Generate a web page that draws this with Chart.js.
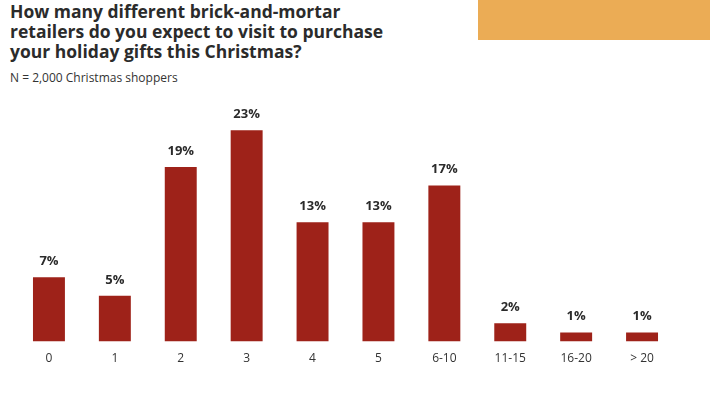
<!DOCTYPE html>
<html>
<head>
<meta charset="utf-8">
<script src="https://cdn.jsdelivr.net/npm/chart.js@4/dist/chart.umd.min.js"></script>
<style>
  html, body { margin: 0; padding: 0; background: #fff; }
  body { width: 710px; height: 395px; position: relative; overflow: hidden; font-family: "Open Sans", sans-serif; }
  #title { position: absolute; left: 10px; top: 1px; font-size: 17.5px; line-height: 20px; font-weight: 700; color: #2b2b2b; margin: 0; }
  #sub { position: absolute; left: 10px; top: 69px; font-size: 12px; color: #333; }
  #band { position: absolute; left: 478px; top: 0; width: 232px; height: 40px; background: #EBAC55; }
  #wrap { position: absolute; left: 0; top: 0; width: 710px; height: 395px; }
</style>
</head>
<body>
<div id="band"></div>
<div id="title">How many different brick-and-mortar<br>retailers do you expect to visit to purchase<br>your holiday gifts this Christmas?</div>
<div id="sub">N = 2,000 Christmas shoppers</div>
<div id="wrap"><canvas id="c" width="710" height="395"></canvas></div>
<script>
const categories = ["0", "1", "2", "3", "4", "5", "6-10", "11-15", "16-20", "> 20"];
const percentValues = [7, 5, 19, 23, 13, 13, 17, 2, 1, 1];

const valueLabels = {
  id: 'valueLabels',
  afterDatasetsDraw(chart) {
    const ctx = chart.ctx;
    const meta = chart.getDatasetMeta(0);
    ctx.save();
    ctx.font = 'bold 13px "Open Sans", sans-serif';
    ctx.fillStyle = '#2b2b2b';
    ctx.textAlign = 'center';
    ctx.textBaseline = 'alphabetic';
    meta.data.forEach((bar, i) => {
      ctx.fillText(percentValues[i] + '%', bar.x, bar.y - 12);
    });
    ctx.restore();
  }
};

new Chart(document.getElementById('c'), {
  type: 'bar',
  data: {
    labels: categories,
    datasets: [{
      data: percentValues,
      backgroundColor: '#9E2219',
      borderWidth: 0,
      categoryPercentage: 1,
      barPercentage: 32 / 66
    }]
  },
  options: {
    responsive: false,
    animation: false,
    layout: { padding: { left: 16, right: 35, top: 112, bottom: 27 } },
    plugins: { legend: { display: false }, tooltip: { enabled: false }, title: { display: false } },
    scales: {
      x: {
        grid: { display: false },
        border: { display: false },
        ticks: { color: '#333', font: { family: '"Open Sans", sans-serif', size: 12 }, padding: 2, maxRotation: 0, autoSkip: false }
      },
      y: { display: false, min: 0, max: 25 }
    }
  },
  plugins: [valueLabels]
});
</script>
</body>
</html>
